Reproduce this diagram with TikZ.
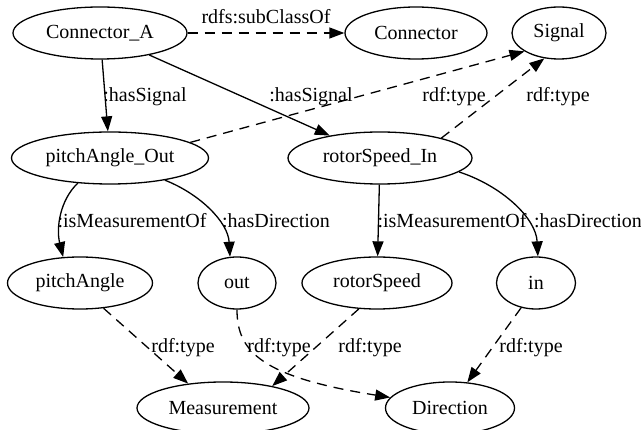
\documentclass[tikz,border=0pt]{standalone}
\usepackage{fontspec}
\setmainfont{Liberation Serif}
\usetikzlibrary{shapes.geometric,arrows.meta}
\begin{document}
\begin{tikzpicture}[x=1pt,y=-1pt,
  nd/.style={draw,ellipse,line width=1.3pt,inner sep=0pt,minimum height=52pt,font=\fontsize{20}{24}\selectfont},
  lbl/.style={inner sep=0pt,font=\fontsize{20}{24}\selectfont},
  edge/.style={line width=1.3pt,-{Triangle[length=15pt,width=11pt]}},
  dedge/.style={edge,dash pattern=on 10pt off 7pt}]
\useasboundingbox (0,0) rectangle (641,430);
% nodes
\node[nd,minimum width=174pt] (CA) at (100,33) {Connector\_A};
\node[nd,minimum width=142pt] (C) at (416,33) {Connector};
\node[nd,minimum width=94pt] (S) at (559,33) {Signal};
\node[nd,minimum width=197pt] (PAO) at (110,158) {pitchAngle\_Out};
\node[nd,minimum width=184pt] (RSI) at (380,158) {rotorSpeed\_In};
\node[nd,minimum width=145pt] (PA) at (80,283) {pitchAngle};
\node[nd,minimum width=78pt] (O) at (237,283) {out};
\node[nd,minimum width=150pt] (RS) at (377,283) {rotorSpeed};
\node[nd,minimum width=79pt] (I) at (536,283) {in};
\node[nd,minimum width=172pt] (M) at (223,408) {Measurement};
\node[nd,minimum width=129pt] (D) at (450,408) {Direction};
% edges
\draw[dedge] (CA) -- (C);
\draw[edge] (CA) -- (PAO);
\draw[edge] (CA) -- (RSI);
\draw[dedge] (PAO.11) -- (S.208);
\draw[dedge] (RSI.18) -- (S.240);
\draw[edge] (PAO.218) .. controls (60,200) and (56,228) .. (PA.123);
\draw[edge] (PAO.338) .. controls (200,194) and (228,222) .. (O.105);
\draw[edge] (RSI) -- (RS);
\draw[edge] (RSI.350) .. controls (502,186) and (536,218) .. (I.86);
\draw[dedge] (PA.313) -- (M.145);
\draw[dedge] (O.270) .. controls (237,352) and (262,377) .. (D.170);
\draw[dedge] (RS.235) -- (M.24);
\draw[dedge] (I.239) -- (D.56);
% labels
\node[lbl] (l1) at (266,17) {rdfs:subClassOf};
\node[lbl] (l2) at (145,97) {:hasSignal};
\node[lbl] (l3) at (311,97) {:hasSignal};
\node[lbl] (l4) at (454,97) {rdf:type};
\node[lbl] (l5) at (558,97) {rdf:type};
\node[lbl] (l6) at (132,221) {:isMeasurementOf};
\node[lbl] (l7) at (276,221) {:hasDirection};
\node[lbl] (l8) at (452,221) {:isMeasurementOf};
\node[lbl] (l9) at (588,221) {:hasDirection};
\node[lbl] (l10) at (183,348) {rdf:type};
\node[lbl] (l11) at (279,348) {rdf:type};
\node[lbl] (l12) at (370,348) {rdf:type};
\node[lbl] (l13) at (531,348) {rdf:type};
\end{tikzpicture}
\end{document}
